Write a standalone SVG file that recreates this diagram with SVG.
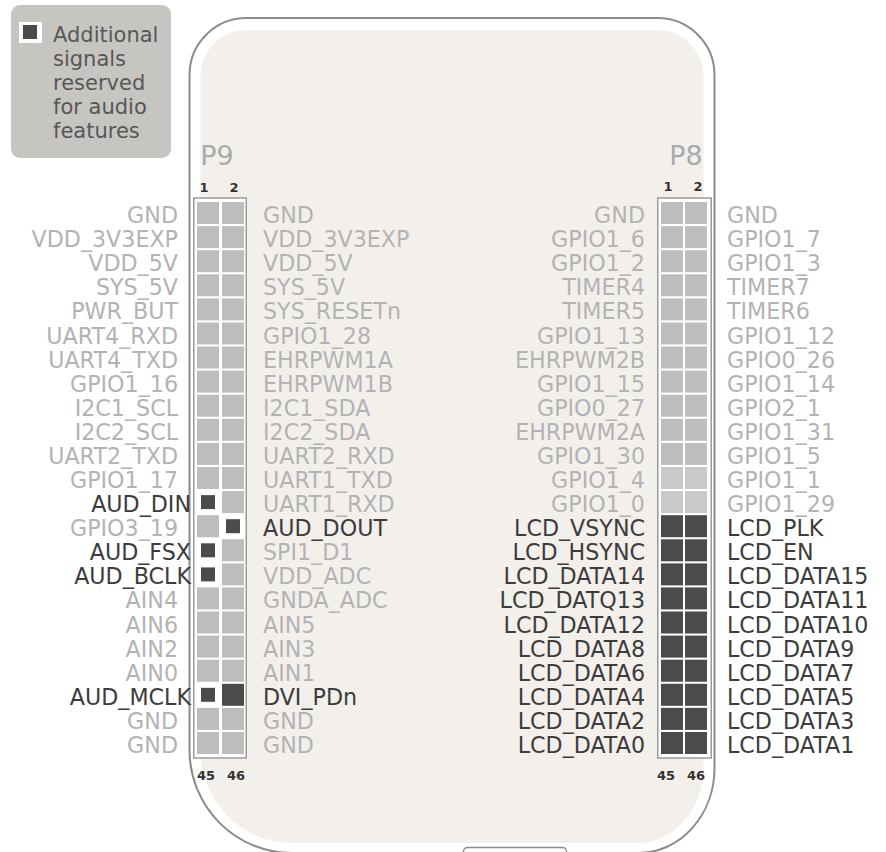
<svg xmlns="http://www.w3.org/2000/svg" width="886" height="852" viewBox="0 0 886 852">
<style>
.lbl{font-family:"DejaVu Sans",Verdana,sans-serif;font-size:22.2px;fill:#b3b3b3}
.dk{fill:#3c3c3c}
.e{text-anchor:end}
.num{font-family:"DejaVu Sans",Verdana,sans-serif;font-size:13px;font-weight:bold;fill:#333;text-anchor:middle}
.hd{font-family:"DejaVu Sans",Verdana,sans-serif;font-size:27px;fill:#aaaaaa;text-anchor:middle}
.c{fill:#bdbdbd}
.cl{fill:#c9c9c9}
.d{fill:#4b4b4b}
.hb{fill:#ffffff;stroke:#9a9a9a;stroke-width:1.5}
.lg{font-family:"DejaVu Sans",Verdana,sans-serif;font-size:21px;fill:#575757}
</style>
<rect width="886" height="852" fill="#ffffff"/>
<g id="board">
<path d="M189.5 75 A57 57 0 0 1 246.5 18 L657.5 18 A57 57 0 0 1 714.5 75 L714.5 768 A76 85 0 0 1 638.5 853 L292 853 A102.5 103 0 0 1 189.5 750 Z" fill="#ffffff" stroke="#8c8c8c" stroke-width="2"/>
<path d="M200.5 76 A46 46 0 0 1 246.5 30 L657.5 30 A46 46 0 0 1 703.5 76 L703.5 768 A66 75 0 0 1 638 843 L292 843 A91.5 93 0 0 1 200.5 750 Z" fill="#f3f0ec"/>
<rect x="463.5" y="847.5" width="103" height="20" rx="4" fill="#ffffff" stroke="#8c8c8c" stroke-width="1.5"/>
</g>
<g id="legend">
<rect x="11" y="5" width="160" height="153" rx="9" fill="#c7c5c2"/>
<rect x="19" y="22" width="23" height="21" fill="#ffffff"/>
<rect x="23" y="25" width="14" height="14" class="d"/>
<text class="lg" x="53" y="42">Additional</text>
<text class="lg" x="53" y="66">signals</text>
<text class="lg" x="53" y="90">reserved</text>
<text class="lg" x="53" y="114">for audio</text>
<text class="lg" x="53" y="138">features</text>
</g>
<g id="P9">
<text class="hd" x="217" y="165">P9</text>
<text class="num" x="204" y="192">1</text>
<text class="num" x="234" y="192">2</text>
<text class="num" x="206" y="780">45</text>
<text class="num" x="236" y="780">46</text>
<rect class="hb" x="193.75" y="198" width="52.5" height="560"/>
<g>
<rect class="c" x="197" y="202" width="22" height="22"/><rect class="c" x="222" y="202" width="22" height="22"/>
<rect class="c" x="197" y="226.1" width="22" height="22"/><rect class="c" x="222" y="226.1" width="22" height="22"/>
<rect class="c" x="197" y="250.2" width="22" height="22"/><rect class="c" x="222" y="250.2" width="22" height="22"/>
<rect class="c" x="197" y="274.3" width="22" height="22"/><rect class="c" x="222" y="274.3" width="22" height="22"/>
<rect class="c" x="197" y="298.4" width="22" height="22"/><rect class="c" x="222" y="298.4" width="22" height="22"/>
<rect class="c" x="197" y="322.5" width="22" height="22"/><rect class="c" x="222" y="322.5" width="22" height="22"/>
<rect class="c" x="197" y="346.5" width="22" height="22"/><rect class="c" x="222" y="346.5" width="22" height="22"/>
<rect class="c" x="197" y="370.6" width="22" height="22"/><rect class="c" x="222" y="370.6" width="22" height="22"/>
<rect class="c" x="197" y="394.7" width="22" height="22"/><rect class="c" x="222" y="394.7" width="22" height="22"/>
<rect class="c" x="197" y="418.8" width="22" height="22"/><rect class="c" x="222" y="418.8" width="22" height="22"/>
<rect class="c" x="197" y="442.9" width="22" height="22"/><rect class="c" x="222" y="442.9" width="22" height="22"/>
<rect class="c" x="197" y="467" width="22" height="22"/><rect class="c" x="222" y="467" width="22" height="22"/>
<rect class="d" x="201" y="495.1" width="14" height="14"/><rect class="c" x="222" y="491.1" width="22" height="22"/>
<rect class="c" x="197" y="515.2" width="22" height="22"/><rect class="d" x="226" y="519.2" width="14" height="14"/>
<rect class="d" x="201" y="543.3" width="14" height="14"/><rect class="c" x="222" y="539.3" width="22" height="22"/>
<rect class="d" x="201" y="567.4" width="14" height="14"/><rect class="c" x="222" y="563.4" width="22" height="22"/>
<rect class="c" x="197" y="587.4" width="22" height="22"/><rect class="c" x="222" y="587.4" width="22" height="22"/>
<rect class="c" x="197" y="611.5" width="22" height="22"/><rect class="c" x="222" y="611.5" width="22" height="22"/>
<rect class="c" x="197" y="635.6" width="22" height="22"/><rect class="c" x="222" y="635.6" width="22" height="22"/>
<rect class="c" x="197" y="659.7" width="22" height="22"/><rect class="c" x="222" y="659.7" width="22" height="22"/>
<rect class="d" x="201" y="687.8" width="14" height="14"/><rect class="d" x="222" y="683.8" width="22" height="22"/>
<rect class="c" x="197" y="707.9" width="22" height="22"/><rect class="c" x="222" y="707.9" width="22" height="22"/>
<rect class="c" x="197" y="732" width="22" height="22"/><rect class="c" x="222" y="732" width="22" height="22"/>
</g>
</g>
<g id="P9-left-labels">
<text class="lbl e" x="178" y="223">GND</text>
<text class="lbl e" x="178" y="247.1">VDD_3V3EXP</text>
<text class="lbl e" x="178" y="271.2">VDD_5V</text>
<text class="lbl e" x="178" y="295.3">SYS_5V</text>
<text class="lbl e" x="178" y="319.4">PWR_BUT</text>
<text class="lbl e" x="178" y="343.5">UART4_RXD</text>
<text class="lbl e" x="178" y="367.5">UART4_TXD</text>
<text class="lbl e" x="178" y="391.6">GPIO1_16</text>
<text class="lbl e" x="178" y="415.7">I2C1_SCL</text>
<text class="lbl e" x="178" y="439.8">I2C2_SCL</text>
<text class="lbl e" x="178" y="463.9">UART2_TXD</text>
<text class="lbl e" x="178" y="488">GPIO1_17</text>
<text class="lbl e dk" x="191" y="512.1">AUD_DIN</text>
<text class="lbl e" x="178" y="536.2">GPIO3_19</text>
<text class="lbl e dk" x="191" y="560.3">AUD_FSX</text>
<text class="lbl e dk" x="191" y="584.4">AUD_BCLK</text>
<text class="lbl e" x="178" y="608.4">AIN4</text>
<text class="lbl e" x="178" y="632.5">AIN6</text>
<text class="lbl e" x="178" y="656.6">AIN2</text>
<text class="lbl e" x="178" y="680.7">AIN0</text>
<text class="lbl e dk" x="191" y="704.8">AUD_MCLK</text>
<text class="lbl e" x="178" y="728.9">GND</text>
<text class="lbl e" x="178" y="753">GND</text>
</g>
<g id="P9-right-labels">
<text class="lbl" x="263" y="223">GND</text>
<text class="lbl" x="263" y="247.1">VDD_3V3EXP</text>
<text class="lbl" x="263" y="271.2">VDD_5V</text>
<text class="lbl" x="263" y="295.3">SYS_5V</text>
<text class="lbl" x="263" y="319.4">SYS_RESETn</text>
<text class="lbl" x="263" y="343.5">GPIO1_28</text>
<text class="lbl" x="263" y="367.5">EHRPWM1A</text>
<text class="lbl" x="263" y="391.6">EHRPWM1B</text>
<text class="lbl" x="263" y="415.7">I2C1_SDA</text>
<text class="lbl" x="263" y="439.8">I2C2_SDA</text>
<text class="lbl" x="263" y="463.9">UART2_RXD</text>
<text class="lbl" x="263" y="488">UART1_TXD</text>
<text class="lbl" x="263" y="512.1">UART1_RXD</text>
<text class="lbl dk" x="263" y="536.2">AUD_DOUT</text>
<text class="lbl" x="263" y="560.3">SPI1_D1</text>
<text class="lbl" x="263" y="584.4">VDD_ADC</text>
<text class="lbl" x="263" y="608.4">GNDA_ADC</text>
<text class="lbl" x="263" y="632.5">AIN5</text>
<text class="lbl" x="263" y="656.6">AIN3</text>
<text class="lbl" x="263" y="680.7">AIN1</text>
<text class="lbl dk" x="263" y="704.8">DVI_PDn</text>
<text class="lbl" x="263" y="728.9">GND</text>
<text class="lbl" x="263" y="753">GND</text>
</g>
<g id="P8">
<text class="hd" x="686" y="165">P8</text>
<text class="num" x="668" y="191">1</text>
<text class="num" x="698" y="191">2</text>
<text class="num" x="666" y="780">45</text>
<text class="num" x="696" y="780">46</text>
<rect class="hb" x="657.75" y="198" width="53.5" height="560"/>
<g>
<rect class="c" x="661" y="202" width="22" height="22"/><rect class="c" x="685" y="202" width="22" height="22"/>
<rect class="c" x="661" y="226.1" width="22" height="22"/><rect class="c" x="685" y="226.1" width="22" height="22"/>
<rect class="c" x="661" y="250.2" width="22" height="22"/><rect class="c" x="685" y="250.2" width="22" height="22"/>
<rect class="c" x="661" y="274.3" width="22" height="22"/><rect class="c" x="685" y="274.3" width="22" height="22"/>
<rect class="c" x="661" y="298.4" width="22" height="22"/><rect class="c" x="685" y="298.4" width="22" height="22"/>
<rect class="c" x="661" y="322.5" width="22" height="22"/><rect class="c" x="685" y="322.5" width="22" height="22"/>
<rect class="c" x="661" y="346.5" width="22" height="22"/><rect class="c" x="685" y="346.5" width="22" height="22"/>
<rect class="c" x="661" y="370.6" width="22" height="22"/><rect class="c" x="685" y="370.6" width="22" height="22"/>
<rect class="c" x="661" y="394.7" width="22" height="22"/><rect class="c" x="685" y="394.7" width="22" height="22"/>
<rect class="c" x="661" y="418.8" width="22" height="22"/><rect class="c" x="685" y="418.8" width="22" height="22"/>
<rect class="c" x="661" y="442.9" width="22" height="22"/><rect class="c" x="685" y="442.9" width="22" height="22"/>
<rect class="cl" x="661" y="467" width="22" height="22"/><rect class="cl" x="685" y="467" width="22" height="22"/>
<rect class="cl" x="661" y="491.1" width="22" height="22"/><rect class="cl" x="685" y="491.1" width="22" height="22"/>
<rect class="d" x="661" y="515.2" width="22" height="22"/><rect class="d" x="685" y="515.2" width="22" height="22"/>
<rect class="d" x="661" y="539.3" width="22" height="22"/><rect class="d" x="685" y="539.3" width="22" height="22"/>
<rect class="d" x="661" y="563.4" width="22" height="22"/><rect class="d" x="685" y="563.4" width="22" height="22"/>
<rect class="d" x="661" y="587.4" width="22" height="22"/><rect class="d" x="685" y="587.4" width="22" height="22"/>
<rect class="d" x="661" y="611.5" width="22" height="22"/><rect class="d" x="685" y="611.5" width="22" height="22"/>
<rect class="d" x="661" y="635.6" width="22" height="22"/><rect class="d" x="685" y="635.6" width="22" height="22"/>
<rect class="d" x="661" y="659.7" width="22" height="22"/><rect class="d" x="685" y="659.7" width="22" height="22"/>
<rect class="d" x="661" y="683.8" width="22" height="22"/><rect class="d" x="685" y="683.8" width="22" height="22"/>
<rect class="d" x="661" y="707.9" width="22" height="22"/><rect class="d" x="685" y="707.9" width="22" height="22"/>
<rect class="d" x="661" y="732" width="22" height="22"/><rect class="d" x="685" y="732" width="22" height="22"/>
</g>
</g>
<g id="P8-left-labels">
<text class="lbl e" x="645" y="223">GND</text>
<text class="lbl e" x="645" y="247.1">GPIO1_6</text>
<text class="lbl e" x="645" y="271.2">GPIO1_2</text>
<text class="lbl e" x="645" y="295.3">TIMER4</text>
<text class="lbl e" x="645" y="319.4">TIMER5</text>
<text class="lbl e" x="645" y="343.5">GPIO1_13</text>
<text class="lbl e" x="645" y="367.5">EHRPWM2B</text>
<text class="lbl e" x="645" y="391.6">GPIO1_15</text>
<text class="lbl e" x="645" y="415.7">GPIO0_27</text>
<text class="lbl e" x="645" y="439.8">EHRPWM2A</text>
<text class="lbl e" x="645" y="463.9">GPIO1_30</text>
<text class="lbl e" x="645" y="488">GPIO1_4</text>
<text class="lbl e" x="645" y="512.1">GPIO1_0</text>
<text class="lbl e dk" x="645" y="536.2">LCD_VSYNC</text>
<text class="lbl e dk" x="645" y="560.3">LCD_HSYNC</text>
<text class="lbl e dk" x="645" y="584.4">LCD_DATA14</text>
<text class="lbl e dk" x="645" y="608.4">LCD_DATQ13</text>
<text class="lbl e dk" x="645" y="632.5">LCD_DATA12</text>
<text class="lbl e dk" x="645" y="656.6">LCD_DATA8</text>
<text class="lbl e dk" x="645" y="680.7">LCD_DATA6</text>
<text class="lbl e dk" x="645" y="704.8">LCD_DATA4</text>
<text class="lbl e dk" x="645" y="728.9">LCD_DATA2</text>
<text class="lbl e dk" x="645" y="753">LCD_DATA0</text>
</g>
<g id="P8-right-labels">
<text class="lbl" x="727" y="223">GND</text>
<text class="lbl" x="727" y="247.1">GPIO1_7</text>
<text class="lbl" x="727" y="271.2">GPIO1_3</text>
<text class="lbl" x="727" y="295.3">TIMER7</text>
<text class="lbl" x="727" y="319.4">TIMER6</text>
<text class="lbl" x="727" y="343.5">GPIO1_12</text>
<text class="lbl" x="727" y="367.5">GPIO0_26</text>
<text class="lbl" x="727" y="391.6">GPIO1_14</text>
<text class="lbl" x="727" y="415.7">GPIO2_1</text>
<text class="lbl" x="727" y="439.8">GPIO1_31</text>
<text class="lbl" x="727" y="463.9">GPIO1_5</text>
<text class="lbl" x="727" y="488">GPIO1_1</text>
<text class="lbl" x="727" y="512.1">GPIO1_29</text>
<text class="lbl dk" x="727" y="536.2">LCD_PLK</text>
<text class="lbl dk" x="727" y="560.3">LCD_EN</text>
<text class="lbl dk" x="727" y="584.4">LCD_DATA15</text>
<text class="lbl dk" x="727" y="608.4">LCD_DATA11</text>
<text class="lbl dk" x="727" y="632.5">LCD_DATA10</text>
<text class="lbl dk" x="727" y="656.6">LCD_DATA9</text>
<text class="lbl dk" x="727" y="680.7">LCD_DATA7</text>
<text class="lbl dk" x="727" y="704.8">LCD_DATA5</text>
<text class="lbl dk" x="727" y="728.9">LCD_DATA3</text>
<text class="lbl dk" x="727" y="753">LCD_DATA1</text>
</g>
</svg>
